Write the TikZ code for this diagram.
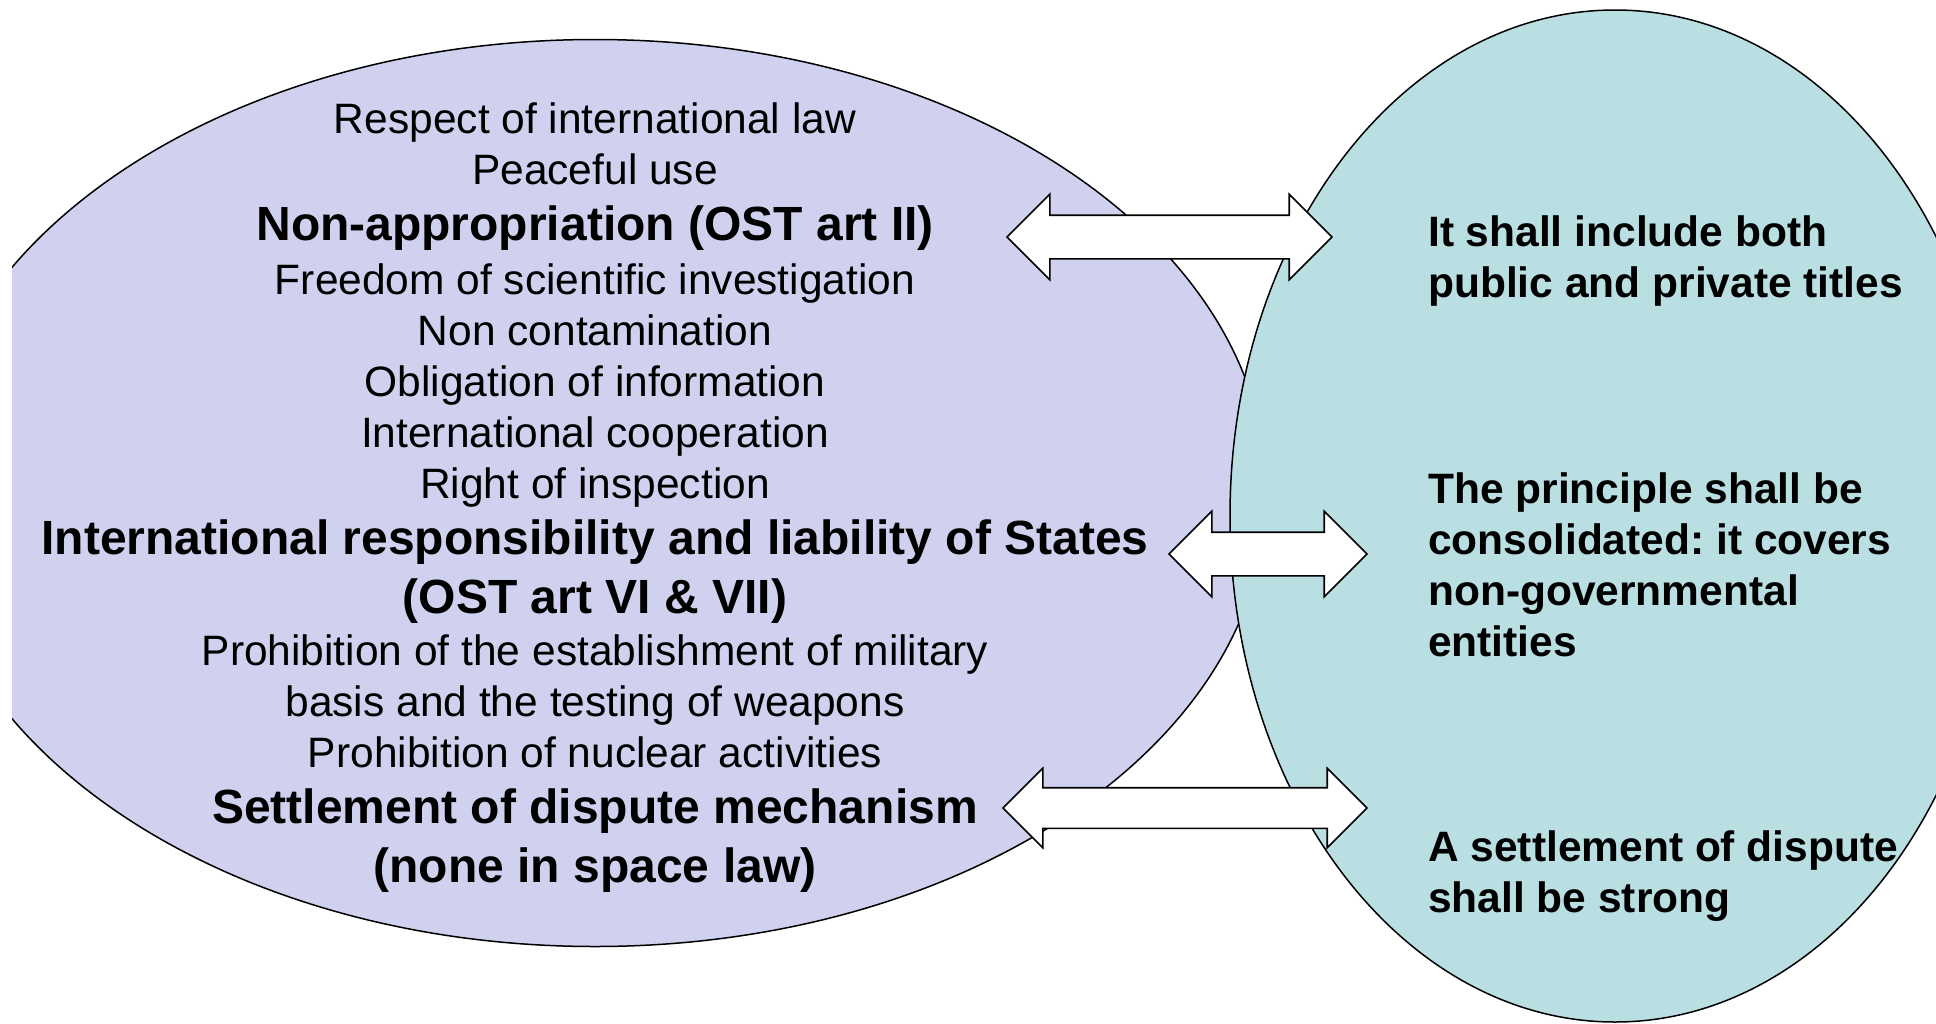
\documentclass[tikz,border=0pt]{standalone}
\usepackage{fontspec}
\setmainfont{Liberation Sans}
\usetikzlibrary{shapes.arrows}
\definecolor{lawlilac}{HTML}{D0D1EF}
\definecolor{lawteal}{HTML}{BADFE3}

\tikzset{
  principle/.style={align=center, inner sep=0pt, font=\fontsize{42.5}{51}\selectfont},
  proposal/.style={align=left, anchor=west, inner sep=0pt, font=\fontsize{42.5}{51}\selectfont\bfseries\frenchspacing},
  linkarrow/.style={double arrow, draw=black, fill=white, line width=1.6pt,
    double arrow tip angle=90, double arrow head extend=21pt,
    inner xsep=0pt, inner ysep=21pt},
}
\newcommand{\keyline}[1]{{\fontsize{48}{58}\selectfont\bfseries #1}}

\begin{document}
\begin{tikzpicture}[x=1pt, y=-1pt]
\useasboundingbox (0,0) rectangle (1936,1023);
\begin{scope}
\clip (12,0) rectangle (1936,1023);
\draw[fill=lawlilac, line width=1.5pt] (595,493) ellipse [x radius=672, y radius=453.5];
\draw[fill=lawteal, line width=1.5pt] (1615,516) ellipse [x radius=385, y radius=506];
\end{scope}

\node[linkarrow, minimum height=325pt] (linkA) at (1169.5,237) {};
\node[linkarrow, minimum height=198pt] (linkB) at (1268,554) {};
\node[linkarrow, minimum height=364pt, inner ysep=19.5pt, double arrow head extend=19.5pt] (linkC) at (1185,808) {};

\node[principle] (principles) at (595,497.5) {%
Respect of international law\\
Peaceful use\\[5pt]
\keyline{Non-appropriation (OST art II)}\\[3.5pt]
Freedom of scientific investigation\\
Non contamination\\
Obligation of information\\
International cooperation\\
Right of inspection\\[5pt]
\keyline{International responsibility and liability of States}\\[8pt]
\keyline{(OST art VI \& VII)}\\[1pt]
Prohibition of the establishment of military\\
basis and the testing of weapons\\
Prohibition of nuclear activities\\[5pt]
\keyline{Settlement of dispute mechanism}\\[8pt]
\keyline{(none in space law)}};

\node[proposal] (titles) at (1428,261) {It shall include both\\ public and private titles};
\node[proposal] (actors) at (1428,565) {The principle shall be\\ consolidated: it covers\\ non-governmental\\ entities};
\node[proposal] (dispute) at (1428,876) {A settlement of dispute\\ shall be strong};
\end{tikzpicture}
\end{document}
